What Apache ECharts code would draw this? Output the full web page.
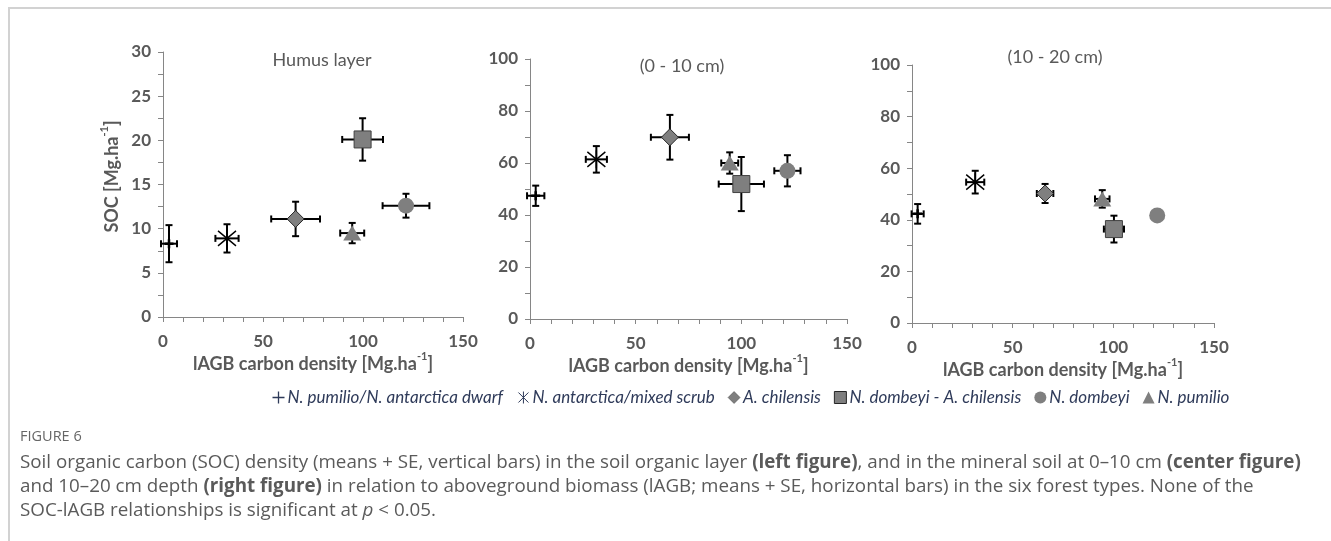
<!DOCTYPE html>
<html>
<head>
<meta charset="utf-8">
<script src="https://cdn.jsdelivr.net/npm/echarts@6/dist/echarts.min.js"></script>
<style>
html,body{margin:0;padding:0;background:#fff;}
#chart{width:1331px;height:541px;}
</style>
</head>
<body>
<div id="chart"></div>
<script>
// ---- data ----
const categories = ['N. pumilio/N. antarctica dwarf', 'N. antarctica/mixed scrub', 'A. chilensis', 'N. dombeyi - A. chilensis', 'N. dombeyi', 'N. pumilio'];
const panelTitles = ['Humus layer', '(0 - 10 cm)', '(10 - 20 cm)'];
const xTickLabels = [0, 50, 100, 150];
const yMaxes = [30, 100, 100];
const yIntervals = [5, 20, 20];

// Humus layer
const humusX   = [3.0, 32.0, 66.3, 99.8, 121.5, 94.6];
const humusXse = [4.0, 5.8, 12.2, 10.2, 11.7, 6.0];
const humusY   = [8.3, 8.9, 11.1, 20.1, 12.6, 9.5];
const humusYse = [2.1, 1.6, 1.95, 2.4, 1.35, 1.15];
// 0 - 10 cm
const top10X   = [2.7, 31.4, 66.2, 100.0, 121.8, 94.5];
const top10Xse = [4.1, 5.0, 9.0, 10.7, 6.2, 4.0];
const top10Y   = [47.4, 61.4, 69.9, 51.9, 57.0, 60.0];
const top10Yse = [3.9, 5.1, 8.6, 10.4, 6.0, 4.1];
// 10 - 20 cm
const deepX    = [2.8, 31.4, 66.1, 100.3, 121.8, 94.5];
const deepXse  = [3.0, 4.5, 4.1, 5.0, 1.5, 3.6];
const deepY    = [42.3, 54.6, 50.2, 36.4, 41.7, 48.1];
const deepYse  = [3.8, 4.4, 3.7, 5.2, 1.5, 3.4];

const panels = [
  {x: humusX, xse: humusXse, y: humusY, yse: humusYse},
  {x: top10X, xse: top10Xse, y: top10Y, yse: top10Yse},
  {x: deepX,  xse: deepXse,  y: deepY,  yse: deepYse}
];

// ---- styles ----
const FONT = 'Lato';
const AXIS_TXT = '#595959';
const GREY = '#7f7f7f';
const plusPath = 'path://M5,0 L5,10 M0,5 L10,5';
const starPath = 'path://M0,0 L10,10 M10,0 L0,10 M5,-1 L5,11';
const symbols = [
  {symbol: plusPath, size: 9, style: {color: 'none', borderColor: '#000', borderWidth: 2.5, opacity: 1}},
  {symbol: starPath, size: 18, style: {color: 'none', borderColor: '#000', borderWidth: 1.4, opacity: 1}},
  {symbol: 'diamond', size: 17, style: {color: GREY, borderColor: '#262626', borderWidth: 1, opacity: 1}},
  {symbol: 'rect', size: 17, style: {color: GREY, borderColor: '#404040', borderWidth: 1, opacity: 1}},
  {symbol: 'circle', size: 16, style: {color: GREY, opacity: 1}},
  {symbol: 'triangle', size: [18, 15], style: {color: GREY, opacity: 1}}
];
const legendIcons = [
  {icon: plusPath, itemStyle: {color: 'none', borderColor: '#2E3A59', borderWidth: 1.3}},
  {icon: starPath, itemStyle: {color: 'none', borderColor: '#2E3A59', borderWidth: 1}},
  {icon: 'diamond', itemStyle: {color: GREY, borderColor: '#404040', borderWidth: 0.5}},
  {icon: 'rect', itemStyle: {color: GREY, borderColor: '#262626', borderWidth: 1}},
  {icon: 'circle', itemStyle: {color: GREY, borderWidth: 0}},
  {icon: 'triangle', itemStyle: {color: GREY, borderWidth: 0}}
];

const grids = [
  {left: 163, top: 52, width: 300, height: 265},
  {left: 530, top: 59, width: 317, height: 260},
  {left: 912, top: 65, width: 302, height: 258}
];

const richName = {
  b: {fontFamily: FONT, fontWeight: 'bold', fontSize: 18, color: AXIS_TXT, lineHeight: 22, verticalAlign: 'bottom'},
  s: {fontFamily: FONT, fontWeight: 'bold', fontSize: 11, color: AXIS_TXT, lineHeight: 22, verticalAlign: 'top'}
};

const xAxes = grids.map((g, i) => ({
  type: 'value', gridIndex: i, min: 0, max: 150, interval: 50,
  name: '{b|lAGB carbon density [Mg.ha}{s|-1}{b|]}',
  nameLocation: 'middle', nameGap: 34,
  nameTextStyle: {rich: richName},
  axisLine: {show: true, lineStyle: {color: '#868686', width: 1}},
  axisTick: {show: true, length: 5, lineStyle: {color: '#868686'}},
  minorTick: {show: true, splitNumber: 5, length: 5, lineStyle: {color: '#868686'}},
  splitLine: {show: false},
  axisLabel: {margin: 16, color: AXIS_TXT, fontFamily: FONT, fontWeight: 'bold', fontSize: 17,
    formatter: v => xTickLabels.indexOf(v) >= 0 ? String(v) : ''}
}));

const yAxes = grids.map((g, i) => ({
  type: 'value', gridIndex: i, min: 0, max: yMaxes[i], interval: yIntervals[i],
  name: i === 0 ? '{b|SOC [Mg.ha}{s|-1}{b|]}' : '',
  nameLocation: 'middle', nameGap: 42,
  nameTextStyle: {rich: richName, padding: [0, 0, 0, 16]},
  axisLine: {show: true, lineStyle: {color: '#868686', width: 1}},
  axisTick: {show: true, length: 5, lineStyle: {color: '#868686'}},
  minorTick: {show: true, splitNumber: 2, length: 5, lineStyle: {color: '#868686'}},
  splitLine: {show: false},
  axisLabel: {margin: 12, color: AXIS_TXT, fontFamily: FONT, fontWeight: 'bold', fontSize: 17}
}));

function errRender(params, api) {
  const x = api.value(0), y = api.value(1), xe = api.value(2), ye = api.value(3);
  const cap = 3.5;
  const st = {stroke: '#000', lineWidth: 2};
  const ch = [];
  if (xe > 0) {
    const l = api.coord([x - xe, y]), r = api.coord([x + xe, y]);
    ch.push({type: 'line', shape: {x1: l[0], y1: l[1], x2: r[0], y2: r[1]}, style: st});
    ch.push({type: 'line', shape: {x1: l[0], y1: l[1] - cap, x2: l[0], y2: l[1] + cap}, style: st});
    ch.push({type: 'line', shape: {x1: r[0], y1: r[1] - cap, x2: r[0], y2: r[1] + cap}, style: st});
  }
  if (ye > 0) {
    const t = api.coord([x, y + ye]), b = api.coord([x, y - ye]);
    ch.push({type: 'line', shape: {x1: t[0], y1: t[1], x2: b[0], y2: b[1]}, style: st});
    ch.push({type: 'line', shape: {x1: t[0] - cap, y1: t[1], x2: t[0] + cap, y2: t[1]}, style: st});
    ch.push({type: 'line', shape: {x1: b[0] - cap, y1: b[1], x2: b[0] + cap, y2: b[1]}, style: st});
  }
  return {type: 'group', children: ch};
}

const series = [];
panels.forEach((p, gi) => {
  series.push({
    type: 'custom', xAxisIndex: gi, yAxisIndex: gi, z: 2, silent: true,
    renderItem: errRender, clip: false,
    data: p.x.map((v, k) => [v, p.y[k], p.xse[k], p.yse[k]]),
    encode: {x: 0, y: 1}
  });
  categories.forEach((name, k) => {
    const s = symbols[k];
    series.push({
      type: 'scatter', name: name, xAxisIndex: gi, yAxisIndex: gi, z: 3,
      symbol: s.symbol, symbolSize: s.size, itemStyle: s.style,
      data: [[p.x[k], p.y[k]]]
    });
  });
});

const TXT = '#5a5a5a';
const capFont = 'Open Sans';
const CAP_SIZE = 18.8;
const option = {
  animation: false,
  backgroundColor: '#fff',
  grid: grids,
  xAxis: xAxes,
  yAxis: yAxes,
  legend: {
    left: 265, top: 384, orient: 'horizontal', itemGap: 13, itemWidth: 12, itemHeight: 12,
    textStyle: {fontFamily: FONT, fontStyle: 'italic', fontSize: 17, color: '#2E3A59', padding: [0, 0, 0, -2]},
    data: categories.map((n, k) => Object.assign({name: n}, legendIcons[k]))
  },
  graphic: [
    {type: 'rect', silent: true, z: -1, shape: {x: 9, y: 8, width: 1400, height: 700}, style: {fill: 'none', stroke: '#d2d2d2', lineWidth: 2}},
    {type: 'text', x: 322, y: 60, style: {text: panelTitles[0], fontFamily: FONT, fontSize: 18, fill: AXIS_TXT, align: 'center', verticalAlign: 'middle'}},
    {type: 'text', x: 682, y: 66, style: {text: panelTitles[1], fontFamily: FONT, fontSize: 18, fill: AXIS_TXT, align: 'center', verticalAlign: 'middle'}},
    {type: 'text', x: 1055, y: 57, style: {text: panelTitles[2], fontFamily: FONT, fontSize: 18, fill: AXIS_TXT, align: 'center', verticalAlign: 'middle'}},
    {type: 'text', x: 20, y: 437, style: {text: 'FIGURE 6', fontFamily: capFont, fontSize: 14.5, fill: '#666', verticalAlign: 'middle'}},
    {type: 'text', x: 20, y: 463, style: {
      text: 'Soil organic carbon (SOC) density (means + SE, vertical bars) in the soil organic layer {b|(left figure)}, and in the mineral soil at 0–10 cm {b|(center figure)}',
      fontFamily: capFont, fontSize: CAP_SIZE, fill: TXT, verticalAlign: 'middle',
      rich: {b: {fontFamily: capFont, fontSize: CAP_SIZE, fontWeight: 'bold', fill: TXT, color: TXT}}}},
    {type: 'text', x: 20, y: 487, style: {
      text: 'and 10–20 cm depth {b|(right figure)} in relation to aboveground biomass (lAGB; means + SE, horizontal bars) in the six forest types. None of the',
      fontFamily: capFont, fontSize: CAP_SIZE, fill: TXT, verticalAlign: 'middle',
      rich: {b: {fontFamily: capFont, fontSize: CAP_SIZE, fontWeight: 'bold', fill: TXT, color: TXT}}}},
    {type: 'text', x: 20, y: 511, style: {
      text: 'SOC-lAGB relationships is significant at {i|p} < 0.05.',
      fontFamily: capFont, fontSize: CAP_SIZE, fill: TXT, verticalAlign: 'middle',
      rich: {i: {fontFamily: capFont, fontSize: CAP_SIZE, fontStyle: 'italic', fill: TXT, color: TXT}}}}
  ],
  series: series
};

const chart = echarts.init(document.getElementById('chart'), null, {renderer: 'canvas'});
chart.setOption(option);
</script>
</body>
</html>
